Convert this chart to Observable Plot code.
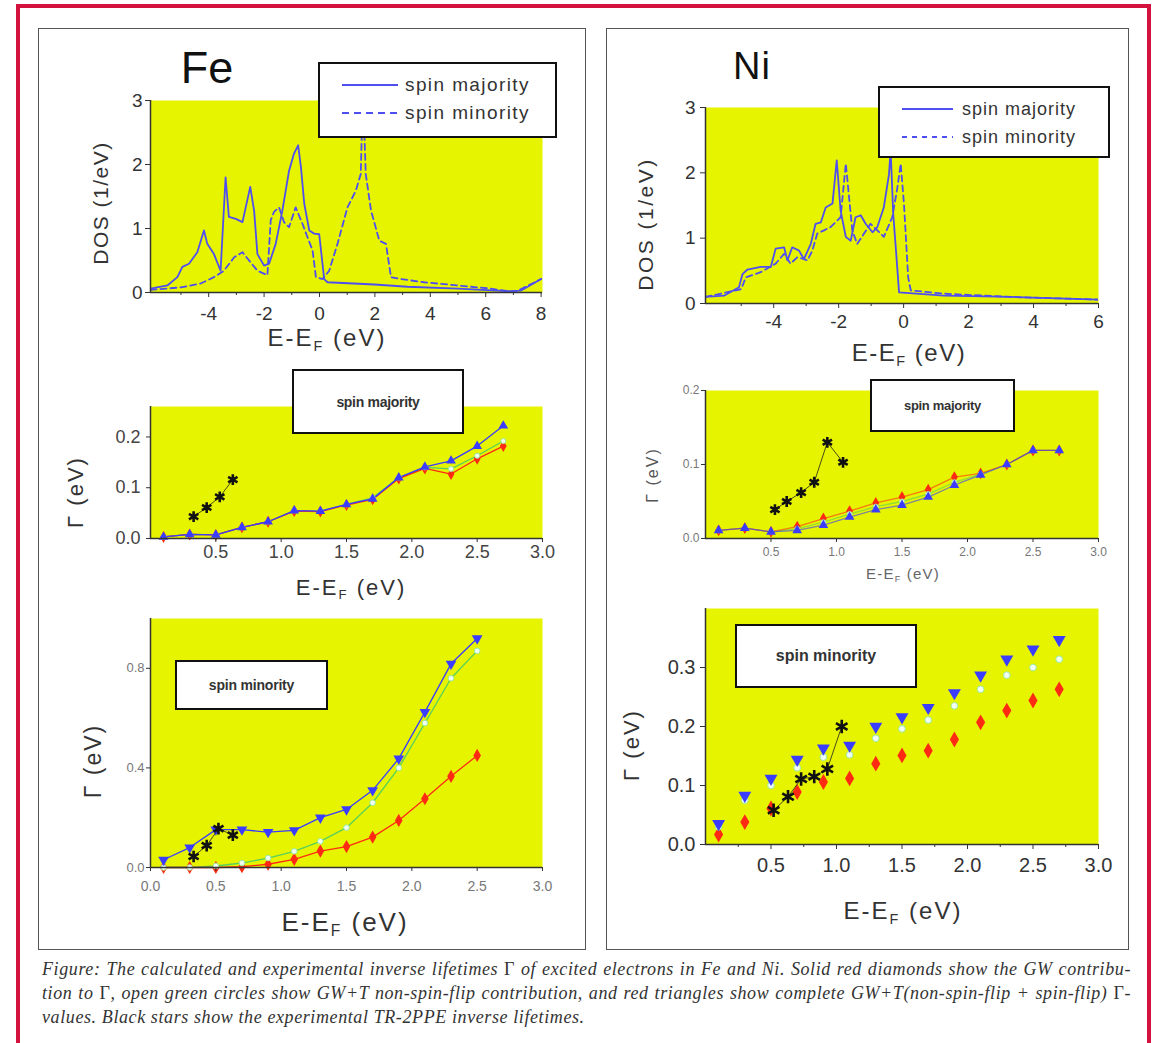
<!DOCTYPE html>
<html><head><meta charset="utf-8">
<script src="https://cdn.jsdelivr.net/npm/d3@7"></script>
<script src="https://cdn.jsdelivr.net/npm/@observablehq/plot@0.6"></script>
<style>
body{margin:0;background:#fff;}
#page{position:relative;width:1161px;height:1043px;overflow:hidden;font-family:"Liberation Sans",Arial,sans-serif;background:#fff;}
.abs{position:absolute;}
</style></head><body><div id="page"></div>
<script>
// ---------------- DATA ----------------
// Fe density of states (E - EF in eV, DOS in 1/eV)
const feDosMajE = [-6.1,-5.49,-5.13,-4.95,-4.71,-4.41,-4.17,-4.05,-3.81,-3.57,-3.39,-3.27,-3.02,-2.78,-2.5,-2.36,-2.24,-2.0,-1.82,-1.58,-1.34,-1.1,-0.92,-0.77,-0.67,-0.55,-0.37,-0.19,-0.01,0.17,0.29,1.98,3.18,4.99,6.8,7.28,8.0];
const feDosMajV = [0.06,0.11,0.24,0.4,0.45,0.63,0.97,0.76,0.6,0.34,1.8,1.18,1.15,1.1,1.65,1.28,0.6,0.42,0.45,0.76,1.28,1.9,2.17,2.3,1.96,1.39,0.97,0.92,0.91,0.21,0.16,0.125,0.09,0.06,0.02,0.03,0.21];
const feDosMinE = [-6.1,-5.0,-4.29,-3.81,-3.45,-3.08,-2.78,-2.54,-2.24,-1.88,-1.76,-1.64,-1.46,-1.28,-1.1,-0.86,-0.61,-0.43,-0.25,-0.13,0.11,0.35,0.65,1.01,1.31,1.49,1.53,1.59,1.67,1.86,2.16,2.4,2.58,2.94,3.78,4.99,6.19,7.04,7.4,8.0];
const feDosMinV = [0.04,0.08,0.14,0.24,0.34,0.55,0.63,0.5,0.34,0.27,1.13,1.26,1.33,1.1,1.02,1.33,1.07,0.86,0.66,0.24,0.21,0.34,0.76,1.33,1.59,1.85,2.53,2.9,1.85,1.28,0.81,0.76,0.24,0.21,0.16,0.11,0.06,0.005,0.08,0.21];
// Ni density of states
const niDosMajE = [-6.1,-5.53,-5.07,-4.96,-4.81,-4.4,-4.09,-3.94,-3.68,-3.58,-3.43,-3.22,-3.07,-2.86,-2.71,-2.55,-2.4,-2.19,-2.06,-1.94,-1.78,-1.63,-1.48,-1.32,-1.17,-0.96,-0.81,-0.61,-0.45,-0.4,-0.32,-0.25,-0.14,1.24,3.29,6.0];
const niDosMajV = [0.1,0.12,0.25,0.45,0.52,0.56,0.56,0.84,0.86,0.66,0.86,0.81,0.68,0.91,1.22,1.24,1.47,1.53,2.19,1.42,1.02,0.96,1.32,1.35,1.22,1.09,1.17,1.47,1.98,2.35,1.37,0.91,0.17,0.12,0.1,0.06];
const niDosMinE = [-6.1,-5.0,-4.86,-4.4,-3.94,-3.68,-3.48,-3.27,-2.96,-2.81,-2.66,-2.45,-2.25,-1.94,-1.78,-1.71,-1.58,-1.43,-1.22,-1.02,-0.81,-0.61,-0.35,-0.19,-0.09,0.01,0.14,0.22,1.24,3.29,6.0];
const niDosMinV = [0.1,0.22,0.4,0.48,0.61,0.76,0.61,0.71,0.66,0.81,1.07,1.12,1.17,1.32,2.14,1.78,1.12,0.91,1.07,1.22,1.12,1.02,1.32,1.78,2.14,1.53,0.4,0.2,0.15,0.1,0.06];

// Fe inverse lifetimes, spin majority (eV)
const feMajE   = [0.1,0.3,0.5,0.7,0.9,1.1,1.3,1.5,1.7,1.9,2.1,2.3,2.5,2.7];
const feMajTot = [0.003,0.008,0.007,0.022,0.033,0.055,0.054,0.067,0.078,0.12,0.141,0.153,0.182,0.222];
const feMajNsf = [0.003,0.008,0.007,0.022,0.033,0.055,0.054,0.067,0.08,0.12,0.14,0.137,0.163,0.192];
const feMajGw  = [0.003,0.008,0.007,0.022,0.033,0.054,0.053,0.066,0.077,0.118,0.138,0.127,0.157,0.182];
const feMajExpE = [0.33,0.43,0.53,0.63];
const feMajExpG = [0.043,0.061,0.082,0.116];
// Fe inverse lifetimes, spin minority
const feMinE   = [0.1,0.3,0.5,0.7,0.9,1.1,1.3,1.5,1.7,1.9,2.1,2.3,2.5];
const feMinTot = [0.031,0.08,0.152,0.152,0.142,0.149,0.2,0.233,0.31,0.437,0.624,0.818,0.92];
const feMinNsf = [0.0,0.0,0.006,0.018,0.038,0.065,0.105,0.16,0.26,0.4,0.58,0.76,0.87];
const feMinGw  = [0.0,0.0,0.0,0.003,0.013,0.033,0.066,0.084,0.122,0.189,0.276,0.366,0.45];
const feMinExpE = [0.33,0.43,0.52,0.63];
const feMinExpG = [0.044,0.088,0.156,0.13];
// Ni inverse lifetimes, spin majority
const niMajE   = [0.1,0.3,0.5,0.7,0.9,1.1,1.3,1.5,1.7,1.9,2.1,2.3,2.5,2.7];
const niMajTot = [0.011,0.014,0.009,0.011,0.018,0.029,0.039,0.045,0.056,0.072,0.086,0.1,0.119,0.119];
const niMajNsf = [0.011,0.014,0.009,0.013,0.022,0.033,0.043,0.05,0.06,0.076,0.087,0.1,0.119,0.119];
const niMajGw  = [0.011,0.014,0.009,0.016,0.027,0.037,0.048,0.056,0.066,0.083,0.088,0.1,0.119,0.119];
const niMajExpE = [0.53,0.62,0.73,0.83,0.93,1.05];
const niMajExpG = [0.039,0.05,0.062,0.076,0.13,0.103];
// Ni inverse lifetimes, spin minority
const niMinE   = [0.1,0.3,0.5,0.7,0.9,1.1,1.3,1.5,1.7,1.9,2.1,2.3,2.5,2.7];
const niMinTot = [0.035,0.083,0.112,0.144,0.163,0.168,0.2,0.216,0.232,0.257,0.287,0.314,0.331,0.347];
const niMinNsf = [0.03,0.075,0.1,0.13,0.148,0.152,0.18,0.196,0.211,0.235,0.263,0.287,0.3,0.314];
const niMinGw  = [0.017,0.038,0.061,0.089,0.106,0.112,0.137,0.151,0.159,0.178,0.207,0.227,0.244,0.263];
const niMinExpE = [0.52,0.63,0.73,0.83,0.93,1.04];
const niMinExpG = [0.058,0.081,0.111,0.115,0.128,0.2];

// tick values
const dosFeXTicks = [-4,-2,0,2,4,6,8];
const dosFeXMinor = [-5,-3,-1,1,3,5,7];
const dosNiXTicks = [-4,-2,0,2,4,6];
const dosNiXMinor = [-5,-3,-1,1,3,5];
const dosYTicks = [0,1,2,3];
const gX05 = [0.5,1.0,1.5,2.0,2.5,3.0];
const gX00 = [0.0,0.5,1.0,1.5,2.0,2.5,3.0];
const gXMinor = [0.25,0.75,1.25,1.75,2.25,2.75];
const feMajYTicks = [0.0,0.1,0.2];
const feMinYTicks = [0.0,0.4,0.8];
const niMajYTicks = [0.0,0.1,0.2];
const niMinYTicks = [0.0,0.1,0.2,0.3];

// ---------------- STYLE ----------------
const YELLOW = "#e6f400";
const DOSBLUE = "#4f4ff0";
const BLUE = "#3a3cff";
const RED = "#ff2a12";
const GREEN = "#5ad05a";
const AXIS = "#333";

const page = document.getElementById("page");
const zip = (xs, ys) => xs.map((x, i) => ({x, y: ys[i]}));

function box(l, t, w, h, style) {
  const d = document.createElement("div");
  d.className = "abs";
  Object.assign(d.style, {left: l + "px", top: t + "px", width: w + "px", height: h + "px", boxSizing: "border-box"}, style || {});
  page.appendChild(d);
  return d;
}
function label(html, cx, cy, size, o = {}) {
  const d = document.createElement("div");
  d.className = "abs";
  d.innerHTML = html;
  Object.assign(d.style, {
    left: cx + "px", top: cy + "px",
    transform: `translate(-50%,-50%) rotate(${o.rotate || 0}deg)`,
    fontSize: size + "px", letterSpacing: (o.ls || 0) + "px",
    color: o.color || "#222", fontWeight: o.weight || "normal",
    whiteSpace: "nowrap", lineHeight: "1"
  });
  page.appendChild(d);
  return d;
}
const EEF = 'E-E<sub style="font-size:0.6em;vertical-align:-0.35em">F</sub> (eV)';

function panel(p) {
  const [x0, x1, y0, y1] = p.frame;
  const ml = 80, mr = 30, mt = 20, mb = 50;
  const axes = [
    Plot.ruleX([p.xDomain[0]], {stroke: AXIS, strokeWidth: 1.5}),
    Plot.ruleY([p.yDomain[0]], {stroke: AXIS, strokeWidth: 1.5}),
    Plot.axisX(p.xTicks, {anchor: "bottom", tickSize: p.tick || 5, tickPadding: p.xPad, fontSize: p.xFont, tickFormat: p.xFmt, fill: p.tickColor, stroke: AXIS, label: null}),
    Plot.axisY(p.yTicks, {anchor: "left", tickSize: p.tick || 5, tickPadding: p.yPad, fontSize: p.yFont, tickFormat: p.yFmt, fill: p.tickColor, stroke: AXIS, label: null})
  ];
  if (p.xMinor) axes.push(Plot.axisX(p.xMinor, {anchor: "bottom", tickSize: 3, tickFormat: () => "", stroke: AXIS, label: null}));
  const svg = Plot.plot({
    width: x1 - x0 + ml + mr, height: y1 - y0 + mt + mb,
    marginLeft: ml, marginRight: mr, marginTop: mt, marginBottom: mb,
    x: {domain: p.xDomain}, y: {domain: p.yDomain},
    style: {background: "transparent", overflow: "visible", fontFamily: "'Liberation Sans', Arial, sans-serif"},
    marks: [Plot.frame({fill: YELLOW, stroke: null}), ...p.marks, ...axes]
  });
  svg.style.position = "absolute";
  svg.style.left = (x0 - ml) + "px";
  svg.style.top = (y0 - mt) + "px";
  page.appendChild(svg);
}

function dosMarks(majE, majV, minE, minV) {
  return [
    Plot.line(zip(minE, minV), {x: "x", y: "y", stroke: DOSBLUE, strokeWidth: 1.8, strokeDasharray: "6,4", clip: true}),
    Plot.line(zip(majE, majV), {x: "x", y: "y", stroke: DOSBLUE, strokeWidth: 1.8, clip: true})
  ];
}
function gammaMarks(E, gw, nsf, tot, expE, expG, o) {
  const r = o.r;
  const m = [];
  if (o.lines) {
    m.push(Plot.line(zip(E, nsf), {x: "x", y: "y", stroke: GREEN, strokeWidth: 1.3, strokeOpacity: o.lineOpacity}));
    m.push(Plot.line(zip(E, gw), {x: "x", y: "y", stroke: RED, strokeWidth: 1.3, strokeOpacity: o.lineOpacity}));
    m.push(Plot.line(zip(E, tot), {x: "x", y: "y", stroke: BLUE, strokeWidth: 1.3, strokeOpacity: o.lineOpacity}));
  }
  m.push(Plot.dot(zip(E, gw), {x: "x", y: "y", symbol: "diamond", r: r, fill: RED}));
  m.push(Plot.dot(zip(E, nsf), {x: "x", y: "y", symbol: "circle", r: r * 0.7, fill: "#f2fff2", stroke: "#9de89d", strokeWidth: 1}));
  m.push(Plot.dot(zip(E, tot), {x: "x", y: "y", symbol: "triangle", r: r, fill: BLUE, rotate: o.down ? 180 : 0}));
  m.push(Plot.line(zip(expE, expG), {x: "x", y: "y", stroke: "#222", strokeWidth: 1, strokeOpacity: 0.8}));
  m.push(Plot.dot(zip(expE, expG), {x: "x", y: "y", symbol: "asterisk", r: r + 1.5, stroke: "#111", strokeWidth: 2.6}));
  return m;
}
const f1 = d3.format(".1f");
const fint = d => String(d);

// ---------------- FRAMES ----------------
box(16, 4, 1135, 1100, {border: "4px solid #d3123e"});
box(38, 28, 548, 922, {border: "1.5px solid #555"});
box(606, 28, 523, 922, {border: "1.5px solid #555"});

// ---------------- PANELS ----------------
// Fe DOS
panel({frame: [150, 542, 100, 292], xDomain: [-6.1, 8.05], yDomain: [0, 3],
  xTicks: dosFeXTicks, xMinor: dosFeXMinor, yTicks: dosYTicks, xFmt: fint, yFmt: fint,
  xFont: 19, yFont: 19, xPad: 9, yPad: 3, tickColor: "#333",
  marks: dosMarks(feDosMajE, feDosMajV, feDosMinE, feDosMinV)});
// Fe spin majority
panel({frame: [150, 542, 406, 538], xDomain: [0, 3.0], yDomain: [0, 0.26],
  xTicks: gX05, yTicks: feMajYTicks, xFmt: f1, yFmt: f1, tick: 4,
  xFont: 18, yFont: 18, xPad: 3, yPad: 6, tickColor: "#444",
  marks: gammaMarks(feMajE, feMajGw, feMajNsf, feMajTot, feMajExpE, feMajExpG, {r: 3.6, lines: true, lineOpacity: 1, down: false})});
// Fe spin minority
panel({frame: [150, 542, 618, 867], xDomain: [0, 3.0], yDomain: [0, 1.0],
  xTicks: gX00, yTicks: feMinYTicks, xFmt: f1, yFmt: f1, tick: 4,
  xFont: 14, yFont: 13, xPad: 10, yPad: 2, tickColor: "#777",
  marks: gammaMarks(feMinE, feMinGw, feMinNsf, feMinTot, feMinExpE, feMinExpG, {r: 4, lines: true, lineOpacity: 1, down: true})});
// Ni DOS
panel({frame: [705, 1098, 107, 303], xDomain: [-6.1, 6.0], yDomain: [0, 3],
  xTicks: dosNiXTicks, xMinor: dosNiXMinor, yTicks: dosYTicks, xFmt: fint, yFmt: fint,
  xFont: 19, yFont: 19, xPad: 6, yPad: 5, tickColor: "#333",
  marks: dosMarks(niDosMajE, niDosMajV, niDosMinE, niDosMinV)});
// Ni spin majority
panel({frame: [705, 1098, 390, 538], xDomain: [0, 3.0], yDomain: [0, 0.2],
  xTicks: gX05, yTicks: niMajYTicks, xFmt: f1, yFmt: f1, tick: 4,
  xFont: 12, yFont: 12, xPad: 5, yPad: 2, tickColor: "#777",
  marks: gammaMarks(niMajE, niMajGw, niMajNsf, niMajTot, niMajExpE, niMajExpG, {r: 3.6, lines: true, lineOpacity: 0.6, down: false})});
// Ni spin minority
panel({frame: [705, 1098, 608, 844], xDomain: [0, 3.0], yDomain: [0, 0.4],
  xTicks: gX05, xMinor: gXMinor, yTicks: niMinYTicks, xFmt: f1, yFmt: f1,
  xFont: 20, yFont: 20, xPad: 8, yPad: 5, tickColor: "#333",
  marks: gammaMarks(niMinE, niMinGw, niMinNsf, niMinTot, niMinExpE, niMinExpG, {r: 4.8, lines: false, down: true})});

// ---------------- TITLES & AXIS LABELS ----------------
label("Fe", 207, 67, 45, {color: "#111"});
label("Ni", 752, 66, 38, {color: "#111", ls: 1});

label("DOS (1/eV)", 100, 203, 21, {rotate: -90, ls: 1.5, color: "#333"});
label(EEF, 327, 340, 24, {ls: 2, color: "#333"});
label("Γ (eV)", 76, 492, 22, {rotate: -90, ls: 2, color: "#333"});
label(EEF, 351, 589, 22, {ls: 2, color: "#333"});
label("Γ (eV)", 93, 761, 23, {rotate: -90, ls: 2, color: "#333"});
label(EEF, 345, 924, 26, {ls: 2, color: "#333"});

label("DOS (1/eV)", 645, 224, 21, {rotate: -90, ls: 2.5, color: "#333"});
label(EEF, 909, 355, 24, {ls: 1.5, color: "#333"});
label("Γ (eV)", 653, 475, 16, {rotate: -90, ls: 2, color: "#555"});
label(EEF, 903, 575, 15, {ls: 1.2, color: "#666"});
label("Γ (eV)", 632, 745, 22, {rotate: -90, ls: 2, color: "#333"});
label(EEF, 903, 913, 24, {ls: 2, color: "#333"});

// ---------------- LEGENDS ----------------
function dosLegend(l, t, w, h, lx0, lx1, tx, ys, size, ls, dash) {
  const b = box(l, t, w, h, {border: "2px solid #111", background: "#fff"});
  b.innerHTML = `<svg width="${w}" height="${h}" style="position:absolute;left:-2px;top:-2px">
    <line x1="${lx0}" x2="${lx1}" y1="${ys[0]}" y2="${ys[0]}" stroke="${DOSBLUE}" stroke-width="2"/>
    <line x1="${lx0}" x2="${lx1}" y1="${ys[1]}" y2="${ys[1]}" stroke="${DOSBLUE}" stroke-width="2" stroke-dasharray="${dash}"/></svg>`;
  ["spin majority", "spin minority"].forEach((s, i) => {
    const d = document.createElement("div");
    d.textContent = s;
    Object.assign(d.style, {position: "absolute", left: (tx - 2) + "px", top: (ys[i] - 2) + "px", transform: "translateY(-52%)",
      fontSize: size + "px", letterSpacing: ls + "px", color: "#333", whiteSpace: "nowrap", lineHeight: "1"});
    b.appendChild(d);
  });
}
dosLegend(318, 62, 239, 76, 24, 80, 87, [23, 51], 19, 1.4, "7,5");
dosLegend(878, 86, 232, 72, 24, 75, 84, [23, 51], 18, 1.0, "5,5");

function textLegend(l, t, w, h, s, size, ls) {
  const b = box(l, t, w, h, {border: "2px solid #111", background: "#fff", display: "flex", alignItems: "center", justifyContent: "center"});
  const d = document.createElement("div");
  d.textContent = s;
  Object.assign(d.style, {fontSize: size + "px", fontWeight: "bold", letterSpacing: ls + "px", color: "#333", whiteSpace: "nowrap", lineHeight: "1"});
  b.appendChild(d);
}
textLegend(292, 369, 172, 65, "spin majority", 14, -0.3);
textLegend(175, 660, 153, 50, "spin minority", 14, -0.2);
textLegend(870, 379, 145, 53, "spin majority", 13, -0.3);
textLegend(735, 624, 182, 64, "spin minority", 16, 0);

// ---------------- CAPTION ----------------
const capLines = [
  'Figure: The calculated and experimental inverse lifetimes <span style="font-style:normal">Γ</span> of excited electrons in Fe and Ni. Solid red diamonds show the GW contribu-',
  'tion to <span style="font-style:normal">Γ</span>, open green circles show GW+T non-spin-flip contribution, and red triangles show complete GW+T(non-spin-flip + spin-flip) <span style="font-style:normal">Γ</span>-',
  'values. Black stars show the experimental TR-2PPE inverse lifetimes.'
];
capLines.forEach((s, i) => {
  const d = document.createElement("div");
  d.className = "abs";
  d.innerHTML = s;
  Object.assign(d.style, {left: "42px", top: (958 + i * 24) + "px", width: "1089px", fontFamily: "'Liberation Serif', 'DejaVu Serif', serif",
    fontStyle: "italic", fontSize: "18px", color: "#333", lineHeight: "22px", whiteSpace: "nowrap",
    textAlign: "justify", textAlignLast: i < 2 ? "justify" : "left", letterSpacing: "0.6px"});
  page.appendChild(d);
});
</script></body></html>
